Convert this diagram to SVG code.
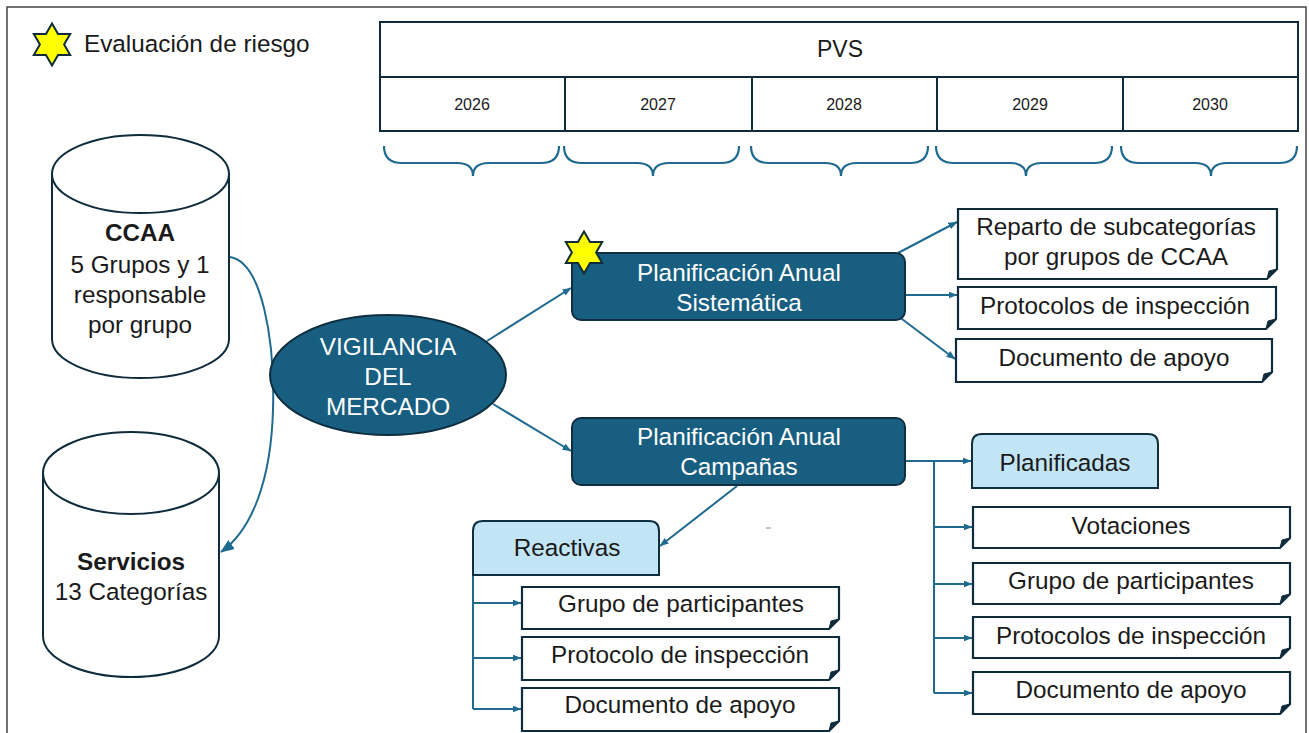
<svg xmlns="http://www.w3.org/2000/svg" width="1309" height="733" viewBox="0 0 1309 733">
<style>
.t{font-family:"Liberation Sans",Arial,sans-serif;font-size:24.3px;fill:#1a1a1a;text-anchor:middle}
.w{fill:#ffffff}
.b{font-weight:bold}
.dark{fill:#185e80;stroke:#0f2f40;stroke-width:2}
.light{fill:#c2e5f5;stroke:#0f2f40;stroke-width:2}
.box{fill:#ffffff;stroke:#0f2c3c;stroke-width:2.2}
.fold{fill:#0f2c3c;stroke:#0f2c3c;stroke-width:1}
.cyl{fill:#ffffff;stroke:#0f2c3c;stroke-width:2}
.cn{fill:none;stroke:#1f6a8f;stroke-width:2}
.br{fill:none;stroke:#1f6a8f;stroke-width:2.2}
.tb{fill:#ffffff;stroke:#0f2c3c;stroke-width:2}
.star{fill:#ffff00;stroke:#0f2c3c;stroke-width:2;stroke-linejoin:miter}
</style>
<defs>
<marker id="ah" markerUnits="userSpaceOnUse" markerWidth="9" markerHeight="7" refX="8.5" refY="3.5" orient="auto">
<path d="M0,0 L9,3.5 L0,7 z" fill="#1f6a8f"/>
</marker>
<marker id="ahl" markerUnits="userSpaceOnUse" markerWidth="14" markerHeight="11" refX="13" refY="5.5" orient="auto">
<path d="M0,0 L14,5.5 L0,11 z" fill="#1f6a8f"/>
</marker>
<polygon id="star6" points="0,-21 6.06,-10.5 18.19,-10.5 12.12,0 18.19,10.5 6.06,10.5 0,21 -6.06,10.5 -18.19,10.5 -12.12,0 -18.19,-10.5 -6.06,-10.5"/>
</defs>
<rect x="0" y="0" width="1309" height="733" fill="#ffffff"/>
<rect x="7" y="7" width="1299" height="740" fill="none" stroke="#444" stroke-width="1.5"/>

<g id="legend">
<use href="#star6" class="star" x="52" y="44.5"/>
<text class="t" x="84" y="52" style="text-anchor:start">Evaluación de riesgo</text>
</g>

<g id="pvs-table">
<rect class="tb" x="380" y="22" width="918" height="109"/>
<line x1="380" y1="77" x2="1298" y2="77" stroke="#0f2c3c" stroke-width="2"/>
<line x1="565" y1="77" x2="565" y2="131" stroke="#0f2c3c" stroke-width="2"/>
<line x1="752" y1="77" x2="752" y2="131" stroke="#0f2c3c" stroke-width="2"/>
<line x1="937" y1="77" x2="937" y2="131" stroke="#0f2c3c" stroke-width="2"/>
<line x1="1123" y1="77" x2="1123" y2="131" stroke="#0f2c3c" stroke-width="2"/>
<text class="t" x="840" y="57" style="font-size:23px">PVS</text>
<text class="t" x="472" y="110" style="font-size:16px">2026</text>
<text class="t" x="658" y="110" style="font-size:16px">2027</text>
<text class="t" x="844" y="110" style="font-size:16px">2028</text>
<text class="t" x="1030" y="110" style="font-size:16px">2029</text>
<text class="t" x="1210" y="110" style="font-size:16px">2030</text>
</g>

<g id="braces">
<path class="br" d="M384,146 Q384,163 402,163 H457 Q473,163 473,176 Q473,163 489,163 H541 Q559,163 559,146"/>
<path class="br" d="M564,146 Q564,163 582,163 H637 Q653,163 653,176 Q653,163 669,163 H721 Q739,163 739,146"/>
<path class="br" d="M751,146 Q751,163 769,163 H825 Q841,163 841,176 Q841,163 857,163 H910 Q928,163 928,146"/>
<path class="br" d="M936,146 Q936,163 954,163 H1010 Q1026,163 1026,176 Q1026,163 1042,163 H1094 Q1112,163 1112,146"/>
<path class="br" d="M1121,146 Q1121,163 1139,163 H1195 Q1211,163 1211,176 Q1211,163 1227,163 H1279 Q1297,163 1297,146"/>
</g>

<g id="ccaa">
<path class="cyl" d="M52,174 V339 A88.5,39 0 0 0 229,339 V174"/>
<ellipse class="cyl" cx="140.5" cy="174" rx="88.5" ry="39"/>
<text class="t b" x="140" y="241">CCAA</text>
<text class="t" x="140" y="273">5 Grupos y 1</text>
<text class="t" x="140" y="303">responsable</text>
<text class="t" x="140" y="333">por grupo</text>
</g>

<g id="servicios">
<path class="cyl" d="M43,473 V636 A88,41 0 0 0 219,636 V473"/>
<ellipse class="cyl" cx="131" cy="473" rx="88" ry="41"/>
<text class="t b" x="131" y="570">Servicios</text>
<text class="t" x="131" y="600">13 Categorías</text>
</g>

<g id="connectors">
<path class="cn" d="M230,257 C262,262 275,340 273,410 C271,480 252,530 221,552" marker-end="url(#ahl)"/>
<line class="cn" x1="487" y1="341" x2="571" y2="288" marker-end="url(#ah)"/>
<line class="cn" x1="493" y1="404" x2="571" y2="451" marker-end="url(#ah)"/>
<line class="cn" x1="898" y1="253" x2="957" y2="222" marker-end="url(#ah)"/>
<line class="cn" x1="905" y1="295" x2="957" y2="295" marker-end="url(#ah)"/>
<line class="cn" x1="898" y1="316" x2="955" y2="359" marker-end="url(#ah)"/>
<line class="cn" x1="737" y1="486" x2="660" y2="546" marker-end="url(#ah)"/>
<path class="cn" d="M473,575 V709"/>
<line class="cn" x1="473" y1="603" x2="521" y2="603" marker-end="url(#ah)"/>
<line class="cn" x1="473" y1="658" x2="521" y2="658" marker-end="url(#ah)"/>
<line class="cn" x1="473" y1="709" x2="521" y2="709" marker-end="url(#ah)"/>
<line class="cn" x1="905" y1="461" x2="971" y2="461" marker-end="url(#ah)"/>
<path class="cn" d="M934,461 V693"/>
<line class="cn" x1="934" y1="527" x2="972" y2="527" marker-end="url(#ah)"/>
<line class="cn" x1="934" y1="584" x2="972" y2="584" marker-end="url(#ah)"/>
<line class="cn" x1="934" y1="638" x2="972" y2="638" marker-end="url(#ah)"/>
<line class="cn" x1="934" y1="693" x2="972" y2="693" marker-end="url(#ah)"/>
</g>

<line x1="766" y1="528" x2="771" y2="528" stroke="#888" stroke-width="1"/>

<g id="vigilancia">
<ellipse class="dark" cx="388" cy="375" rx="118" ry="60"/>
<text class="t w" x="388" y="355">VIGILANCIA</text>
<text class="t w" x="388" y="385">DEL</text>
<text class="t w" x="388" y="415">MERCADO</text>
</g>

<g id="sistematica">
<rect class="dark" x="572" y="253" width="333" height="67" rx="9"/>
<text class="t w" x="739" y="281">Planificación Anual</text>
<text class="t w" x="739" y="311">Sistemática</text>
<use href="#star6" class="star" x="584" y="252.5"/>
</g>

<g id="campanas">
<rect class="dark" x="572" y="418" width="333" height="67" rx="9"/>
<text class="t w" x="739" y="445">Planificación Anual</text>
<text class="t w" x="739" y="475">Campañas</text>
</g>

<g id="reparto">
<path class="box" d="M958,209 H1277 V269 L1267,279 H958 Z"/>
<path class="fold" d="M1277,269 L1269,271 L1267,279 Z"/>
<text class="t" x="1116" y="235">Reparto de subcategorías</text>
<text class="t" x="1116" y="265">por grupos de CCAA</text>
</g>
<g id="protocolos-sis">
<path class="box" d="M958,287 H1276 V319 L1266,329 H958 Z"/>
<path class="fold" d="M1276,319 L1268,321 L1266,329 Z"/>
<text class="t" x="1115" y="314">Protocolos de inspección</text>
</g>
<g id="documento-sis">
<path class="box" d="M956,339 H1272 V372 L1262,382 H956 Z"/>
<path class="fold" d="M1272,372 L1264,374 L1262,382 Z"/>
<text class="t" x="1114" y="366">Documento de apoyo</text>
</g>

<g id="reactivas">
<path class="light" d="M473,575 V531 Q473,521 483,521 H649 Q659,521 659,531 V575 Z"/>
<text class="t" x="567" y="556">Reactivas</text>
</g>
<g id="grupo-rea">
<path class="box" d="M522,587 H839 V619 L829,629 H522 Z"/>
<path class="fold" d="M839,619 L831,621 L829,629 Z"/>
<text class="t" x="681" y="612">Grupo de participantes</text>
</g>
<g id="protocolo-rea">
<path class="box" d="M522,637 H839 V670 L829,680 H522 Z"/>
<path class="fold" d="M839,670 L831,672 L829,680 Z"/>
<text class="t" x="680" y="663">Protocolo de inspección</text>
</g>
<g id="documento-rea">
<path class="box" d="M522,688 H839 V721 L829,731 H522 Z"/>
<path class="fold" d="M839,721 L831,723 L829,731 Z"/>
<text class="t" x="680" y="713">Documento de apoyo</text>
</g>

<g id="planificadas">
<path class="light" d="M972,488 V444 Q972,434 982,434 H1148 Q1158,434 1158,444 V488 Z"/>
<text class="t" x="1065" y="471">Planificadas</text>
</g>
<g id="votaciones">
<path class="box" d="M973,507 H1290 V538 L1280,548 H973 Z"/>
<path class="fold" d="M1290,538 L1282,540 L1280,548 Z"/>
<text class="t" x="1131" y="534">Votaciones</text>
</g>
<g id="grupo-pla">
<path class="box" d="M973,563 H1290 V594 L1280,604 H973 Z"/>
<path class="fold" d="M1290,594 L1282,596 L1280,604 Z"/>
<text class="t" x="1131" y="589">Grupo de participantes</text>
</g>
<g id="protocolos-pla">
<path class="box" d="M973,617 H1290 V648 L1280,658 H973 Z"/>
<path class="fold" d="M1290,648 L1282,650 L1280,658 Z"/>
<text class="t" x="1131" y="644">Protocolos de inspección</text>
</g>
<g id="documento-pla">
<path class="box" d="M973,672 H1290 V704 L1280,714 H973 Z"/>
<path class="fold" d="M1290,704 L1282,706 L1280,714 Z"/>
<text class="t" x="1131" y="698">Documento de apoyo</text>
</g>
</svg>
